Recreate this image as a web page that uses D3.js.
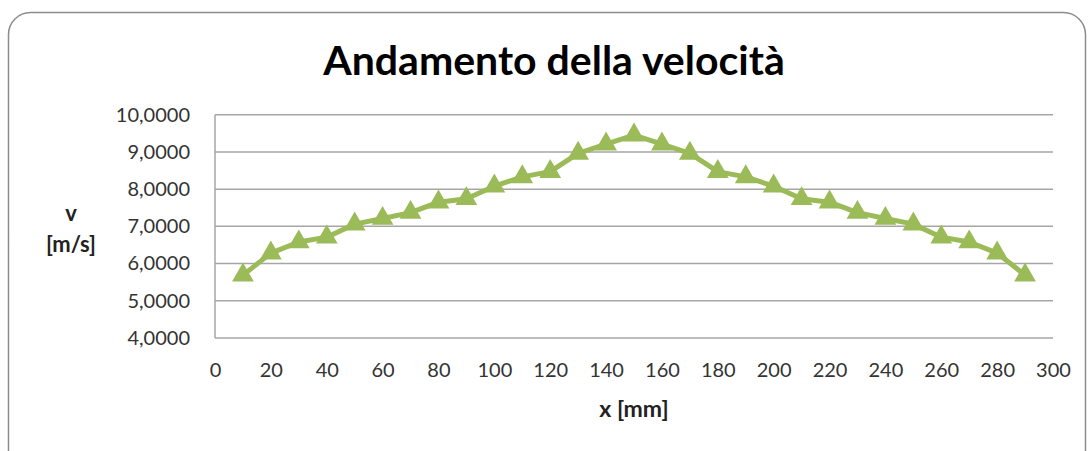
<!DOCTYPE html>
<html>
<head>
<meta charset="utf-8">
<script src="https://cdn.jsdelivr.net/npm/d3@7"></script>
<style>
  html, body { margin: 0; padding: 0; background: #fff; }
  svg { display: block; }
</style>
</head>
<body>
<svg id="chart" width="1088" height="451"></svg>
<script>
// Position along the pipe [mm]
const positions = [10, 20, 30, 40, 50, 60, 70, 80, 90, 100, 110, 120, 130, 140, 150,
                   160, 170, 180, 190, 200, 210, 220, 230, 240, 250, 260, 270, 280, 290];
// Measured velocity [m/s]
const velocities = [5.69, 6.28, 6.58, 6.71, 7.06, 7.21, 7.37, 7.65, 7.74, 8.08, 8.33, 8.47, 8.96, 9.21, 9.45,
                    9.21, 8.96, 8.47, 8.33, 8.08, 7.74, 7.65, 7.37, 7.21, 7.06, 6.71, 6.58, 6.28, 5.69];
const xTicks = [0, 20, 40, 60, 80, 100, 120, 140, 160, 180, 200, 220, 240, 260, 280, 300];
const yTicks = [4, 5, 6, 7, 8, 9, 10];

const titleText = "Andamento della velocità";
const xTitle = "x [mm]";
const yTitleLines = ["v", "[m/s]"];

const svg = d3.select("#chart");
const font = "Lato, 'Open Sans', sans-serif";

// Chart area frame
svg.append("rect")
  .attr("x", 8.5).attr("y", 12.5)
  .attr("width", 1077).attr("height", 460)
  .attr("rx", 22).attr("ry", 22)
  .attr("fill", "#fff")
  .attr("stroke", "#8c8c8c")
  .attr("stroke-width", 1.5);

const plot = { left: 215, right: 1053, top: 114.7, bottom: 338 };

const x = d3.scaleLinear().domain([0, 300]).range([plot.left, plot.right]);
const y = d3.scaleLinear().domain([4, 10]).range([plot.bottom, plot.top]);

// Horizontal gridlines
svg.append("g")
  .selectAll("line")
  .data(yTicks)
  .join("line")
  .attr("x1", plot.left).attr("x2", plot.right)
  .attr("y1", d => y(d)).attr("y2", d => y(d))
  .attr("stroke", "#a6a6a6")
  .attr("stroke-width", 1.5);

// Vertical value axis line
svg.append("line")
  .attr("x1", plot.left).attr("x2", plot.left)
  .attr("y1", plot.top).attr("y2", plot.bottom)
  .attr("stroke", "#a6a6a6")
  .attr("stroke-width", 1.5);

// Y tick labels
const fmt = d => d3.format(".4f")(d).replace(".", ",");
const yAxis = d3.axisLeft(y).tickValues(yTicks).tickFormat(fmt).tickSize(0).tickPadding(25);
const gy = svg.append("g").attr("transform", `translate(${plot.left},0)`).call(yAxis);
gy.select(".domain").remove();
gy.selectAll("text")
  .attr("font-family", font)
  .attr("font-size", 20)
  .attr("fill", "#333");

// X tick labels
const xAxis = d3.axisBottom(x).tickValues(xTicks).tickFormat(d3.format("d")).tickSize(0).tickPadding(25);
const gx = svg.append("g").attr("transform", `translate(0,${plot.bottom})`).call(xAxis);
gx.select(".domain").remove();
gx.selectAll("text")
  .attr("font-family", font)
  .attr("font-size", 20)
  .attr("fill", "#333");

// Velocity line
const data = positions.map((p, i) => ({ p, v: velocities[i] }));
svg.append("path")
  .datum(data)
  .attr("d", d3.line().x(d => x(d.p)).y(d => y(d.v)))
  .attr("fill", "none")
  .attr("stroke", "#9bbb59")
  .attr("stroke-width", 5)
  .attr("stroke-linejoin", "round");

// Triangle markers
const tri = d3.symbol().type(d3.symbolTriangle).size(205);
svg.append("g")
  .selectAll("path")
  .data(data)
  .join("path")
  .attr("transform", d => `translate(${x(d.p)},${y(d.v)})`)
  .attr("d", tri)
  .attr("fill", "#9bbb59");

// Title
svg.append("text")
  .attr("x", 554).attr("y", 75)
  .attr("text-anchor", "middle")
  .attr("font-family", font)
  .attr("font-weight", "bold")
  .attr("font-size", 41)
  .attr("fill", "#000")
  .text(titleText);

// Axis titles
svg.append("text")
  .attr("x", 634).attr("y", 417)
  .attr("text-anchor", "middle")
  .attr("font-family", font)
  .attr("font-weight", "bold")
  .attr("font-size", 23)
  .attr("fill", "#222")
  .text(xTitle);

svg.append("text")
  .attr("text-anchor", "middle")
  .attr("font-family", font)
  .attr("font-weight", "bold")
  .attr("font-size", 22)
  .attr("fill", "#222")
  .selectAll("tspan")
  .data(yTitleLines)
  .join("tspan")
  .attr("x", 71)
  .attr("y", (d, i) => 221 + i * 31)
  .text(d => d);
</script>
</body>
</html>
